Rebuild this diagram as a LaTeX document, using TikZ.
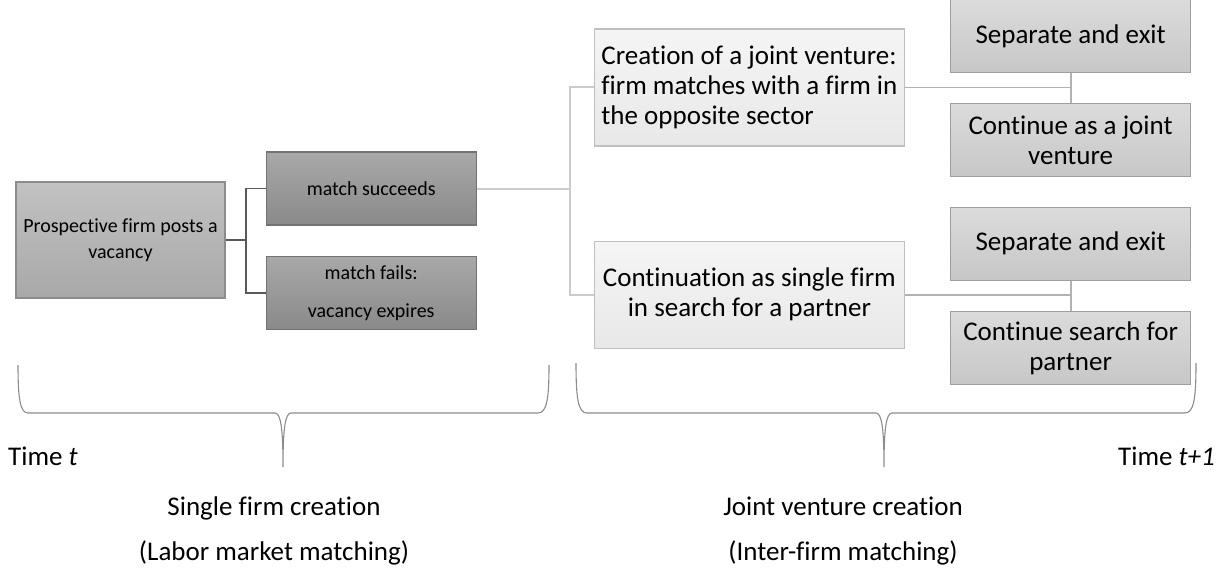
\documentclass[tikz,border=0pt]{standalone}
\usepackage{fontspec}
\setmainfont{Carlito}[Ligatures=NoCommon]
\usetikzlibrary{positioning}
\definecolor{postTop}{gray}{0.76}
\definecolor{postBot}{gray}{0.66}
\definecolor{postLine}{gray}{0.55}
\definecolor{matchTop}{gray}{0.66}
\definecolor{matchBot}{gray}{0.54}
\definecolor{matchLine}{gray}{0.45}
\definecolor{jvTop}{gray}{0.96}
\definecolor{jvBot}{gray}{0.91}
\definecolor{jvLine}{gray}{0.75}
\definecolor{exitTop}{gray}{0.86}
\definecolor{exitBot}{gray}{0.78}
\definecolor{exitLine}{gray}{0.62}
\definecolor{darkLink}{gray}{0.35}
\definecolor{lightLink}{gray}{0.8}
\definecolor{midLink}{gray}{0.7}
\definecolor{braceLine}{gray}{0.55}
\tikzset{node distance=30pt,
	postbox/.style={draw=postLine, line width=1.2pt, top color=postTop, bottom color=postBot, minimum width=209pt, minimum height=116pt, align=center, font=\fontsize{20}{26}\selectfont},
	matchbox/.style={draw=matchLine, line width=1.2pt, top color=matchTop, bottom color=matchBot, minimum width=210pt, minimum height=73pt, align=center, font=\fontsize{20}{26}\selectfont},
	jvbox/.style={draw=jvLine, line width=1.2pt, top color=jvTop, bottom color=jvBot, minimum width=310pt, minimum height=117pt, font=\fontsize{27}{30}\selectfont},
	exitbox/.style={draw=exitLine, line width=1.2pt, top color=exitTop, bottom color=exitBot, minimum width=240pt, minimum height=73pt, align=center, font=\fontsize{27}{30}\selectfont},
	lbl/.style={inner sep=0pt, font=\fontsize{27}{30}\selectfont},
	brace/.style={draw=braceLine, line width=1.1pt}}
\begin{document}
\begin{tikzpicture}[x=1pt,y=-1pt]
	\useasboundingbox (0,0) rectangle (1231,575);
	\node[postbox] (P) at (120.5,240) {Prospective firm posts a\\vacancy};
	\node[matchbox] (S) [right=40pt of P, yshift=51.5pt] {match succeeds};
	\node[matchbox, font=\fontsize{20}{38}\selectfont] (F) [below=30pt of S] {match fails:\\vacancy expires};

	\node[jvbox, align=left] (J) [right=117pt of S, yshift=101pt] {Creation of a joint venture:\\firm matches with a firm in\\the opposite sector};
	\node[jvbox, align=center, minimum height=107pt] (C) [below=94pt of J] {Continuation as single firm\\in search for a partner};

	\node[exitbox] (E1) [right=45pt of J, yshift=51.5pt] {Separate and exit};
	\node[exitbox] (V) [below=30pt of E1] {Continue as a joint\\venture};
	\node[exitbox] (E2) [right=45pt of C, yshift=51pt] {Separate and exit};
	\node[exitbox] (K) [below=30pt of E2] {Continue search for\\partner};

	\path[draw=darkLink, line width=1.8pt]
	(P.east) -- ++(20,0) |- (S.west)
	(P.east) -- ++(20,0) |- (F.west);
	\path[draw=lightLink, line width=2pt]
	(S.east) -- ++(93,0) |- (J.west)
	(S.east) -- ++(93,0) |- (C.west);
	\path[draw=midLink, line width=1.8pt]
	(J.east) -- (J.east -| E1.south)
	(E1.south) -- (V.north)
	(C.east) -- (C.east -| E2.south)
	(E2.south) -- (K.north);

	\draw[brace] (549,365) .. controls (549,398) and (547,413) .. (538,413) -- (291,413) .. controls (285,413) and (283,430) .. (283,467) .. controls (283,430) and (281,413) .. (275,413) -- (28,413) .. controls (20,413) and (18,398) .. (18,365);
	\draw[brace] (1196,363) .. controls (1196,398) and (1194,413) .. (1185,413) -- (892,413) .. controls (886,413) and (884,430) .. (884,467) .. controls (884,430) and (882,413) .. (876,413) -- (587,413) .. controls (578,413) and (576,398) .. (576,363);

	\node[lbl, anchor=base west] (Tt) at (8,465) {Time \textit{t}};
	\node[lbl, anchor=base east] (Tt1) at (1215,465) {Time \textit{t+1}};
	\node[lbl, anchor=base] (SF) at (274,515) {Single firm creation};
	\node[lbl, anchor=base] (LM) at (274,560) {(Labor market matching)};
	\node[lbl, anchor=base] (JV) at (843,515) {Joint venture creation};
	\node[lbl, anchor=base] (IF) at (843,560) {(Inter-firm matching)};
\end{tikzpicture}
\end{document}
